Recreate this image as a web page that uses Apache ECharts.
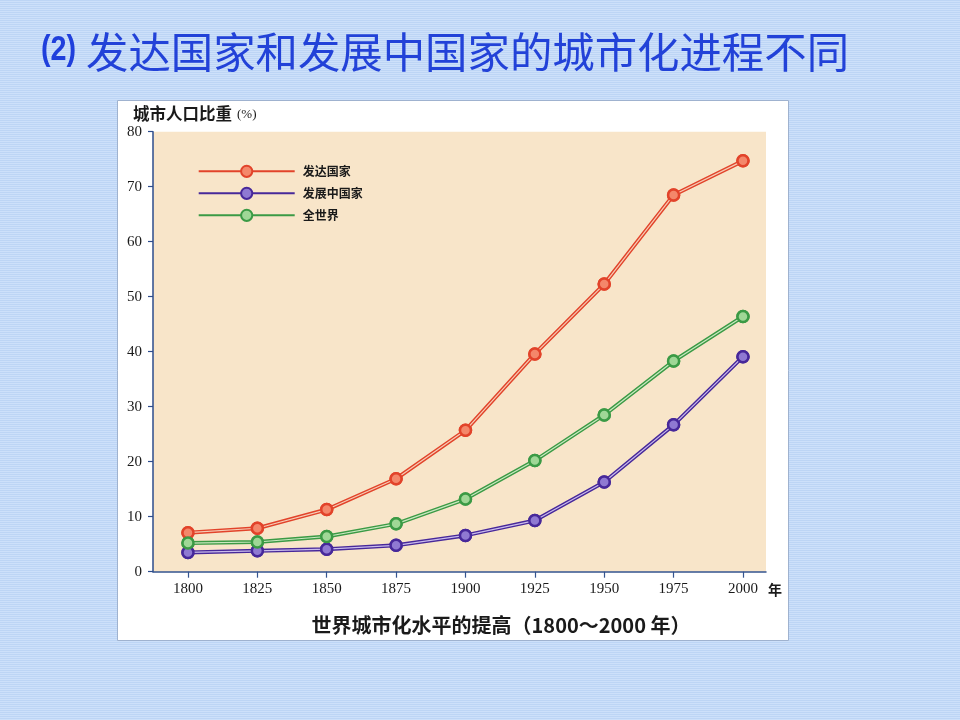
<!DOCTYPE html>
<html>
<head>
<meta charset="utf-8">
<script src="https://cdn.jsdelivr.net/npm/echarts@6/dist/echarts.min.js"></script>
<style>
  html, body { margin: 0; padding: 0; }
  body {
    width: 960px; height: 720px;
    background: repeating-linear-gradient(to bottom, #bdd5f5 0px, #bdd5f5 1px, #cde0fa 1px, #cde0fa 2px);
  }
  #chart { width: 960px; height: 720px; }
</style>
</head>
<body>
<div id="chart"></div>
<script>
// ---- data ----
const years = [1800, 1825, 1850, 1875, 1900, 1925, 1950, 1975, 2000];
const developed = [7.1, 7.9, 11.3, 16.9, 25.7, 39.6, 52.3, 68.5, 74.7];
const developing = [3.5, 3.8, 4.1, 4.8, 6.6, 9.3, 16.3, 26.7, 39.1];
const world = [5.2, 5.4, 6.4, 8.7, 13.2, 20.2, 28.5, 38.3, 46.4];
const seriesNames = ['发达国家', '发展中国家', '全世界'];
const yTicks = [0, 10, 20, 30, 40, 50, 60, 70, 80];

const pageTitleNum = '(2)';
const pageTitle = '发达国家和发展中国家的城市化进程不同';
const yAxisTitle = '城市人口比重';
const yAxisUnit = '(%)';
const xUnit = '年';
const caption = '世界城市化水平的提高（1800～2000 年）';

const styles = [
  { color: '#e2432a', inner: '#f6cdb6', fill: '#f4876a' },
  { color: '#47289a', inner: '#cbbdec', fill: '#8f79d2' },
  { color: '#3b9a45', inner: '#cbe8c0', fill: '#9fd796' }
];
const allValues = [developed, developing, world];

function pairs(vals) { return years.map((y, i) => [y, vals[i]]); }

const series = [];
allValues.forEach((vals, i) => {
  const st = styles[i];
  series.push({
    name: seriesNames[i], type: 'line', data: pairs(vals), z: 2,
    symbol: 'circle', symbolSize: 11,
    itemStyle: { color: st.fill, borderColor: st.color, borderWidth: 2.5 },
    lineStyle: { color: st.color, width: 4 },
    animation: false
  });
  series.push({
    name: seriesNames[i] + '_inner', type: 'line', data: pairs(vals), z: 3,
    symbol: 'none', silent: true,
    lineStyle: { color: st.inner, width: 1.2 },
    animation: false
  });
  series.push({
    name: seriesNames[i] + '_mk', type: 'line', data: pairs(vals), z: 4,
    symbol: 'circle', symbolSize: 11, silent: true,
    itemStyle: { color: st.fill, borderColor: st.color, borderWidth: 2.5 },
    lineStyle: { opacity: 0, width: 0 },
    animation: false
  });
});

const chart = echarts.init(document.getElementById('chart'), null, { renderer: 'canvas' });
chart.setOption({
  backgroundColor: 'transparent',
  animation: false,
  graphic: [
    { type: 'text', z: 10, x: 41, y: 50, scaleX: 0.82, style: {
        text: pageTitleNum, textVerticalAlign: 'middle',
        font: "bold 35px 'Liberation Sans', 'Arial', sans-serif", fill: '#1f3fdc'
    } },
    { type: 'text', z: 10, x: 86, y: 52, style: {
        text: pageTitle, textVerticalAlign: 'middle',
        font: "normal 42.4px 'Noto Sans CJK SC', sans-serif", fill: '#2242d8'
    } },
    { type: 'rect', z: -10, shape: { x: 117.5, y: 100.5, width: 671, height: 540 }, style: { fill: '#ffffff', stroke: '#9fb2cf', lineWidth: 1 } },
    { type: 'text', z: 10, x: 133, y: 114, style: {
        text: yAxisTitle, textVerticalAlign: 'middle',
        font: "bold 16.5px 'Noto Sans CJK SC', sans-serif", fill: '#1a1a1a'
    } },
    { type: 'text', z: 10, x: 237, y: 115, style: {
        text: yAxisUnit, textVerticalAlign: 'middle',
        font: "13px 'Liberation Serif', serif", fill: '#1a1a1a'
    } },
    { type: 'text', z: 10, x: 768, y: 590, style: {
        text: xUnit, textVerticalAlign: 'middle',
        font: "bold 14px 'Noto Sans CJK SC', sans-serif", fill: '#1a1a1a'
    } },
    { type: 'text', z: 10, x: 501, y: 625, style: {
        text: caption, textAlign: 'center', textVerticalAlign: 'middle',
        font: "bold 20px 'Noto Sans CJK SC', sans-serif", fill: '#1a1a1a'
    } }
  ],
  legend: {
    data: seriesNames,
    orient: 'vertical',
    left: 192.7, top: 159.7,
    itemWidth: 96, itemHeight: 14, itemGap: 8.8,
    textStyle: { fontFamily: "'Noto Sans CJK SC', sans-serif", fontSize: 12, fontWeight: 'bold', color: '#1a1a1a', padding: [0, 0, 0, 3] },
    selectedMode: false
  },
  grid: {
    left: 153, right: 194, top: 131.7, bottom: 148.3,
    show: true, backgroundColor: '#f8e5c9', borderWidth: 0
  },
  xAxis: {
    type: 'value', min: 1787.4, max: 2008.3,
    splitLine: { show: false },
    axisLine: { show: true, onZero: false, lineStyle: { color: '#34548f', width: 1.5 } },
    axisTick: { show: true, customValues: years, length: 6, lineStyle: { color: '#34548f', width: 1.2 } },
    axisLabel: { customValues: years, margin: 10, fontFamily: "'Liberation Serif', serif", fontSize: 15, color: '#1a1a1a',
      formatter: v => String(v) }
  },
  yAxis: {
    type: 'value', min: 0, max: 80, interval: 10,
    splitLine: { show: false },
    axisLine: { show: true, lineStyle: { color: '#2d4c8c', width: 1.5 } },
    axisTick: { show: true, length: 5, lineStyle: { color: '#2d4c8c', width: 1.2 } },
    axisLabel: { margin: 11, fontFamily: "'Liberation Serif', serif", fontSize: 15, color: '#1a1a1a',
      formatter: v => (yTicks.indexOf(v) >= 0 ? String(v) : '') }
  },
  series: series
});
</script>
</body>
</html>
